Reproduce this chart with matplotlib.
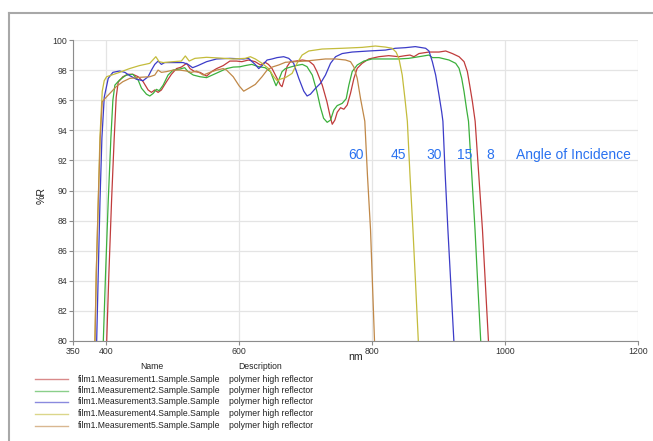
import numpy as np
import matplotlib
matplotlib.use("Agg")
import matplotlib.pyplot as plt
from matplotlib.lines import Line2D

plt.rcParams['font.family'] = ['Liberation Sans', 'DejaVu Sans']

# reflectance curves, %R vs wavelength (nm)
wl_1 = [400.7, 404, 408, 412, 415, 418, 425, 433, 440, 448, 455.5, 463, 468, 473, 478, 483, 490.7,
        498, 505.7, 513, 521, 526, 533, 541, 551, 558.5, 566, 576, 586, 596, 604, 614, 624, 632,
        639, 644, 649.5, 657, 662, 664.5, 668, 672, 677, 685, 695, 705, 712, 717, 725, 732, 737,
        740, 744, 747.5, 752.5, 757.5, 762.5, 767.5, 772.6, 777.6, 785, 795, 810, 825, 840, 850,
        857, 863, 870.5, 885.5, 900.6, 910.7, 920.7, 930.8, 938.3, 943.3, 946.8, 950.9, 955,
        960.5, 966, 970.5, 975]
r_1 = [80, 84.5, 89.3, 93.5, 96.2, 97.2, 97.56, 97.72, 97.72, 97.56, 97.23, 96.68, 96.52, 96.68,
       96.52, 96.68, 97.23, 97.72, 98.1, 98.2, 98.45, 98.1, 97.9, 97.85, 97.6, 97.9, 98.1, 98.3,
       98.6, 98.6, 98.56, 98.67, 98.56, 98.34, 98.52, 98.38, 98.1, 97.45, 97.0, 96.9, 97.45,
       98.23, 98.56, 98.6, 98.67, 98.6, 98.34, 97.9, 97.0, 95.9, 94.9, 94.4, 94.68, 95.2, 95.5,
       95.4, 95.68, 96.46, 97.45, 98.12, 98.45, 98.74, 98.89, 98.96, 98.89, 98.96, 99.0, 98.89,
       99.1, 99.2, 99.2, 99.27, 99.1, 98.89, 98.56, 97.9, 97.0, 95.9, 94.6, 91.0, 87.4, 83.7, 80]

wl_2 = [395.6, 399, 403, 407, 410, 413, 420, 430, 440, 448, 453, 460.5, 465.5, 470.6, 475.6, 479.6,
        485.6, 493, 500.7, 510.8, 518, 523, 531, 541, 551, 561, 571, 581, 591, 601, 609, 619, 629,
        639, 647, 652, 655.5, 659.5, 664.5, 669.6, 677, 685, 695, 702, 710, 717, 722, 727, 732.4,
        737.4, 742.4, 747.4, 755, 761, 765, 770, 777.6, 787.6, 800, 820, 840, 855, 870.5, 885.5,
        890.6, 900.6, 915.7, 925.7, 930.8, 934.8, 938.3, 942.3, 945, 950, 954.8, 959, 963.4]
r_2 = [80, 84.5, 89.3, 93.5, 96.0, 97.0, 97.34, 97.67, 97.72, 97.34, 96.8, 96.4, 96.28, 96.45,
       96.72, 96.63, 97.0, 97.67, 98.0, 98.07, 98.16, 97.9, 97.67, 97.56, 97.5, 97.7, 97.9, 98.1,
       98.2, 98.22, 98.3, 98.38, 98.23, 98.16, 97.9, 97.34, 96.96, 97.34, 97.9, 98.1, 98.2, 98.3,
       98.38, 98.23, 97.67, 96.57, 95.57, 94.8, 94.53, 94.68, 95.35, 95.64, 95.79, 96.1, 97.0,
       97.9, 98.34, 98.6, 98.74, 98.74, 98.74, 98.78, 98.89, 99.0, 98.83, 98.83, 98.67, 98.45,
       98.12, 97.45, 96.57, 95.35, 94.6, 91.0, 87.4, 83.7, 80]

wl_3 = [385.6, 388, 390.6, 393.5, 397, 403, 410, 420, 428, 435.4, 445.5, 455.5, 463, 468, 473, 478,
        483, 488, 500.7, 515.8, 523, 530, 538, 551, 566, 586, 606, 614, 624, 629.4, 634.4, 642,
        649.5, 657, 667, 674.6, 682, 689.7, 697.2, 702.2, 707.2, 714.8, 722.3, 729.8, 737.4, 745,
        755, 770, 795, 820, 835, 850, 865, 880.5, 885.5, 890.6, 895.6, 900.6, 904.6, 906.5, 910,
        914, 918.5, 923]
r_3 = [80, 84.5, 89.3, 93.5, 96.2, 97.45, 97.85, 97.94, 97.85, 97.63, 97.39, 97.3, 97.56, 98.0,
       98.38, 98.6, 98.38, 98.5, 98.5, 98.5, 98.38, 98.16, 98.3, 98.56, 98.74, 98.78, 98.74,
       98.78, 98.38, 98.1, 98.3, 98.67, 98.74, 98.83, 98.89, 98.78, 98.45, 97.45, 96.6, 96.28,
       96.4, 96.79, 97.12, 97.67, 98.45, 98.89, 99.1, 99.2, 99.27, 99.33, 99.45, 99.49, 99.56,
       99.45, 99.27, 98.56, 97.67, 96.35, 95.24, 94.6, 91.0, 87.4, 83.7, 80]

wl_4 = [383, 385, 388, 390.5, 394, 397, 400.6, 408, 420, 435, 450, 465.5, 474.6, 479.6, 485.6, 500.7,
        513, 519, 524.8, 533.4, 551, 571, 591, 609, 616.8, 624.3, 634.4, 644.4, 652, 657, 662,
        669.6, 679.6, 687, 694.7, 704.7, 724.8, 755, 785, 805, 820, 830, 836, 840.3, 845.3, 849.4,
        853, 857, 861.4, 865.5, 869.5]
r_4 = [80, 84.5, 89.3, 93.5, 96.6, 97.3, 97.56, 97.67, 97.85, 98.1, 98.3, 98.45, 98.89, 98.56,
       98.5, 98.56, 98.6, 98.94, 98.6, 98.78, 98.85, 98.8, 98.74, 98.78, 98.89, 98.74, 98.45,
       98.1, 97.56, 97.3, 97.4, 97.5, 97.78, 98.45, 99.0, 99.27, 99.4, 99.45, 99.51, 99.6, 99.53,
       99.45, 99.2, 98.78, 97.67, 96.1, 94.6, 91.0, 87.4, 83.7, 80]

wl_5 = [383, 385, 388, 391, 394, 400, 408, 415, 425, 435.4, 450.5, 465.5, 473, 478, 483, 490.7,
        500.7, 510.8, 520.8, 528, 536, 546, 556, 566, 576, 581, 591, 600, 606.8, 614.3, 624.3,
        634.4, 642, 649.5, 659.5, 669.6, 684.6, 699.7, 714.8, 729.8, 744.9, 760, 767.5, 772.6,
        777.6, 782.6, 789, 793, 797.6, 800.6, 803.6]
r_5 = [80, 84.5, 89.3, 93.5, 95.9, 96.2, 96.57, 96.9, 97.23, 97.45, 97.52, 97.56, 97.67, 98.0,
       97.85, 97.9, 98.0, 98.0, 97.94, 97.85, 97.94, 97.67, 97.85, 98.0, 98.1, 98.0, 97.56, 96.95,
       96.6, 96.79, 97.05, 97.56, 98.0, 98.2, 98.34, 98.52, 98.56, 98.6, 98.67, 98.74, 98.74,
       98.67, 98.56, 98.2, 97.45, 96.1, 94.6, 91.0, 87.4, 83.7, 80]

names = ["film1.Measurement1.Sample.Sample", "film1.Measurement2.Sample.Sample",
         "film1.Measurement3.Sample.Sample", "film1.Measurement4.Sample.Sample",
         "film1.Measurement5.Sample.Sample"]
description = "polymer high reflector"
colors = ["#c03c3c", "#3cb03c", "#3c3cc8", "#c4bc3c", "#c08848"]

angles = ["60", "45", "30", "15", "8"]
angle_x = [776, 840, 894, 939, 977]
angle_y = 92.35

W, H = 653, 441
fig = plt.figure(figsize=(W / 100, H / 100), dpi=100)
ax = fig.add_axes([73 / W, 1 - 341 / H, (638 - 73) / W, 301 / H])

series = [(wl_1, r_1), (wl_2, r_2), (wl_3, r_3), (wl_4, r_4), (wl_5, r_5)]
for (x, y), c in zip(series, colors):
    ax.plot(x, y, color=c, lw=0.9)

ax.set_xlim(350, 1200)
ax.set_ylim(80, 100)
ax.set_xticks([350, 400, 600, 800, 1000, 1200])
ax.set_yticks(np.arange(80, 101, 2))
ax.grid(True, color="#e4e4e4", lw=0.9)
ax.set_axisbelow(True)
for s in ["top", "right"]:
    ax.spines[s].set_visible(False)
for s in ["left", "bottom"]:
    ax.spines[s].set_color("#8c8c8c")
ax.tick_params(labelsize=6.3, colors="#8c8c8c", labelcolor="#333333", length=3, pad=1)

ax.set_xlabel("nm", fontsize=7.6, color="#222222")
ax.set_ylabel("%R", fontsize=7.6, color="#222222")
ax.xaxis.set_label_coords(0.501, -0.038)
ax.yaxis.set_label_coords(-0.046, 0.485)

for a, xa in zip(angles, angle_x):
    ax.text(xa, angle_y, a, color="#2a72f0", fontsize=10, ha="center", va="center")
ax.text(1103, angle_y, "Angle of Incidence", color="#2a72f0", fontsize=10,
        ha="center", va="center")

# legend table below the chart
fig.text(151.7 / W, 1 - 366.7 / H, "Name", fontsize=6.2, ha="center", va="center", color="#222222")
fig.text(260 / W, 1 - 366.7 / H, "Description", fontsize=6.2, ha="center", va="center", color="#222222")
row_y = [379, 390.7, 402, 413.5, 425.5]
for n, c, yy in zip(names, colors, row_y):
    fig.add_artist(Line2D([35 / W, 68 / W], [1 - yy / H, 1 - yy / H], color=c, lw=1.0, alpha=0.6))
    fig.text(78 / W, 1 - yy / H, n, fontsize=6.2, va="center", color="#222222")
    fig.text(229 / W, 1 - yy / H, description, fontsize=6.2, va="center", color="#222222")

# outer frame (top and left edges)
fig.add_artist(Line2D([8.5 / W, 1.0], [1 - 13 / H, 1 - 13 / H], color="#a8a8a8", lw=1.5))
fig.add_artist(Line2D([8.5 / W, 8.5 / W], [0, 1 - 13 / H], color="#a8a8a8", lw=1.5))

fig.savefig("out.png", dpi=100)
